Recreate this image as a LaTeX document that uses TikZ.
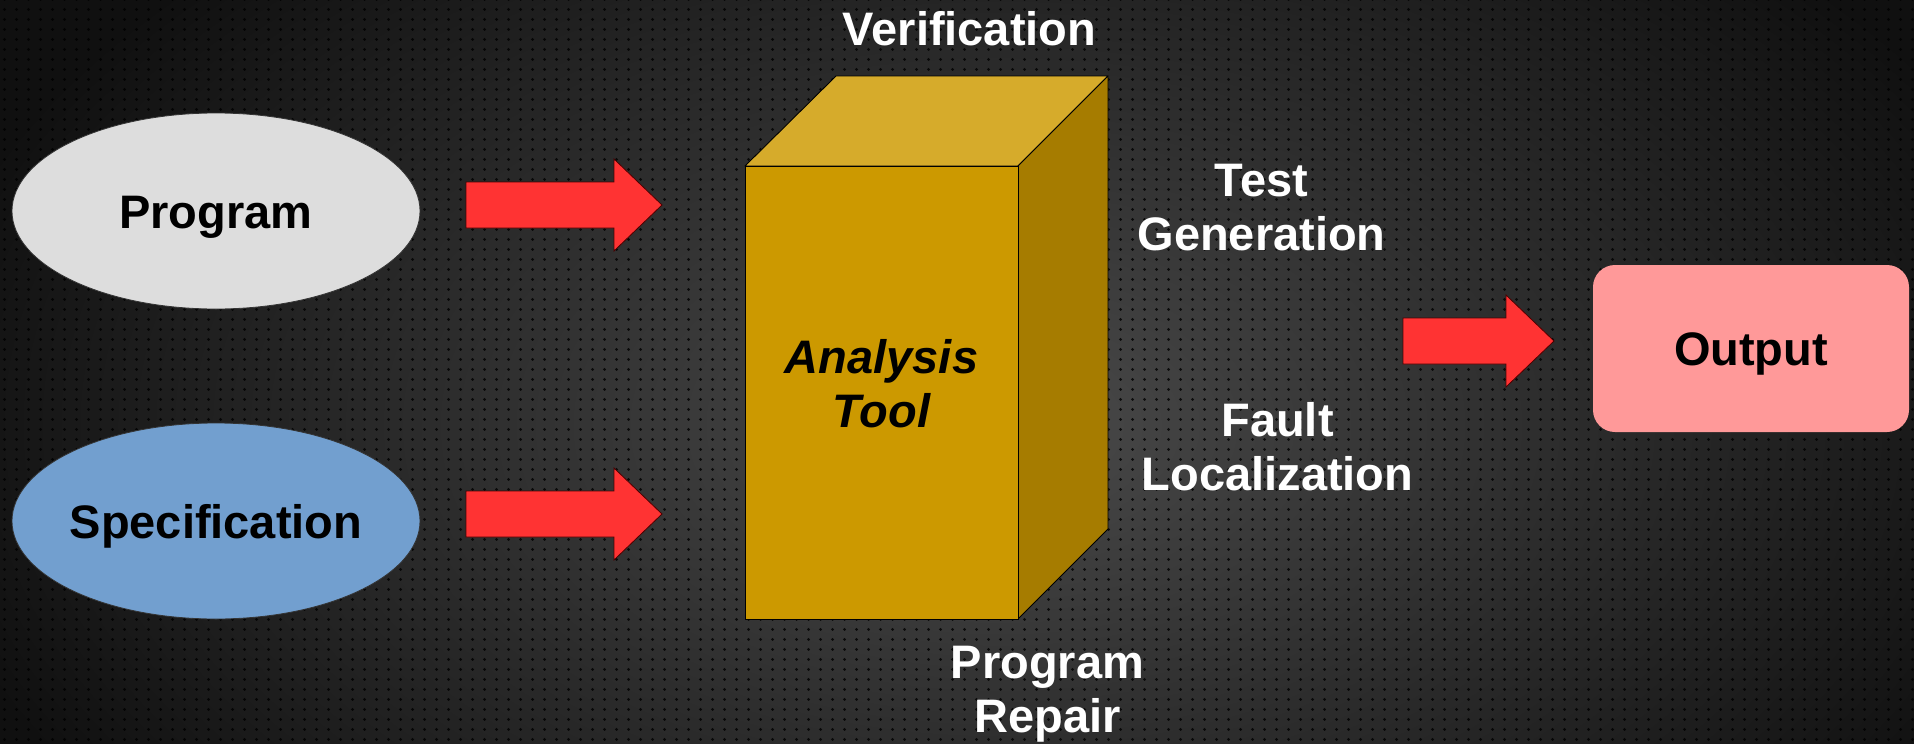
\documentclass[tikz,border=0pt]{standalone}
\usepackage{fontspec}
\setmainfont{Liberation Sans}
\usetikzlibrary{shapes.geometric,patterns.meta}

\definecolor{bgcentre}{HTML}{4A4A4A}
\definecolor{bgedge}{HTML}{101010}
\definecolor{progfill}{HTML}{DDDDDD}
\definecolor{specfill}{HTML}{729FCF}
\definecolor{outfill}{HTML}{FF9999}
\definecolor{arrowred}{HTML}{FF3333}
\definecolor{boxfront}{HTML}{CC9900}
\definecolor{boxtop}{HTML}{D6AB2B}
\definecolor{boxside}{HTML}{A67C00}

% perforated backdrop
\tikzdeclarepattern{
  name=perforation,
  type=uncolored,
  bounding box={(0pt,0pt) and (12pt,10pt)},
  tile size={(12pt,10pt)},
  code={\fill (6pt,5pt) circle (1.7pt);}
}

\tikzset{
  input/.style={ellipse, draw=black!80, line width=0.8pt,
    minimum width=408pt, minimum height=196pt,
    inner xsep=-8pt, inner ysep=0pt,
    font=\fontsize{47}{55}\selectfont\bfseries,
    text height=34pt, text depth=0pt},
  outbox/.style={rectangle, rounded corners=22pt, fill=outfill,
    minimum width=316pt, minimum height=167pt, inner sep=0pt,
    font=\fontsize{47}{55}\selectfont\bfseries,
    text height=34pt, text depth=0pt},
  label/.style={text=white, align=center, inner sep=0pt, anchor=base,
    font=\fontsize{47}{54}\selectfont\bfseries},
  toolname/.style={text=black, align=center, inner sep=0pt, anchor=base,
    font=\fontsize{47}{54}\selectfont\bfseries\itshape},
  blockarrow/.style={fill=arrowred, draw=black!70!red, line width=0.8pt,
    line join=miter},
  face/.style={draw=black, line width=0.9pt, line join=round},
}

% block arrow: name, start x, tip x, centre y
\newcommand\blockarrow[4]{%
  \coordinate (#1) at (#2,#4);
  \filldraw[blockarrow] (#2,#4-23) -- (#3-48,#4-23) -- (#3-48,#4-46)
    -- (#3,#4) -- (#3-48,#4+46) -- (#3-48,#4+23) -- (#2,#4+23) -- cycle;}

\begin{document}
\begin{tikzpicture}[x=1pt, y=-1pt]
  % backdrop
  \useasboundingbox (0,0) rectangle (1914,744);
  \begin{scope}
    \clip (0,0) rectangle (1914,744);
    \shade[inner color=bgcentre, outer color=bgedge]
      (-100,-230) rectangle (2100,1080);
    \fill[pattern=perforation, pattern color=black, opacity=0.8]
      (0,0) rectangle (1914,744);
  \end{scope}

  % inputs
  \node[input, fill=progfill] (prog) at (216,211) {Program};
  \node[input, fill=specfill] (spec) at (216,521) {Specification};

  % arrows into the tool
  \blockarrow{arrA}{466}{662}{205}
  \blockarrow{arrB}{466}{662}{514}

  % the analysis tool as a box
  \coordinate (fTL) at (745,166);
  \coordinate (fTR) at (1018,166);
  \coordinate (fBR) at (1018,619);
  \coordinate (fBL) at (745,619);
  \coordinate (bTL) at (836,76);
  \coordinate (bTR) at (1108,76);
  \coordinate (bBR) at (1108,529);
  \filldraw[face, fill=boxtop] (fTL) -- (bTL) -- (bTR) -- (fTR) -- cycle;
  \filldraw[face, fill=boxside] (fTR) -- (bTR) -- (bBR) -- (fBR) -- cycle;
  \filldraw[face, fill=boxfront] (fTL) -- (fTR) -- (fBR) -- (fBL) -- cycle;
  \node[toolname] (tool) at (881.5,427) {Analysis\\Tool};

  % kinds of analysis (anchored on the baseline of the last line)
  \node[label] (verif) at (969.5,45) {Verification};
  \node[label] (testgen) at (1261.5,250) {Test\\Generation};
  \node[label] (faultloc) at (1277.5,490) {Fault\\Localization};
  \node[label] (repair) at (1047.5,732) {Program\\Repair};

  % output
  \blockarrow{arrC}{1403}{1554}{341}
  \node[outbox] (out) at (1751,348.5) {Output};
\end{tikzpicture}
\end{document}
